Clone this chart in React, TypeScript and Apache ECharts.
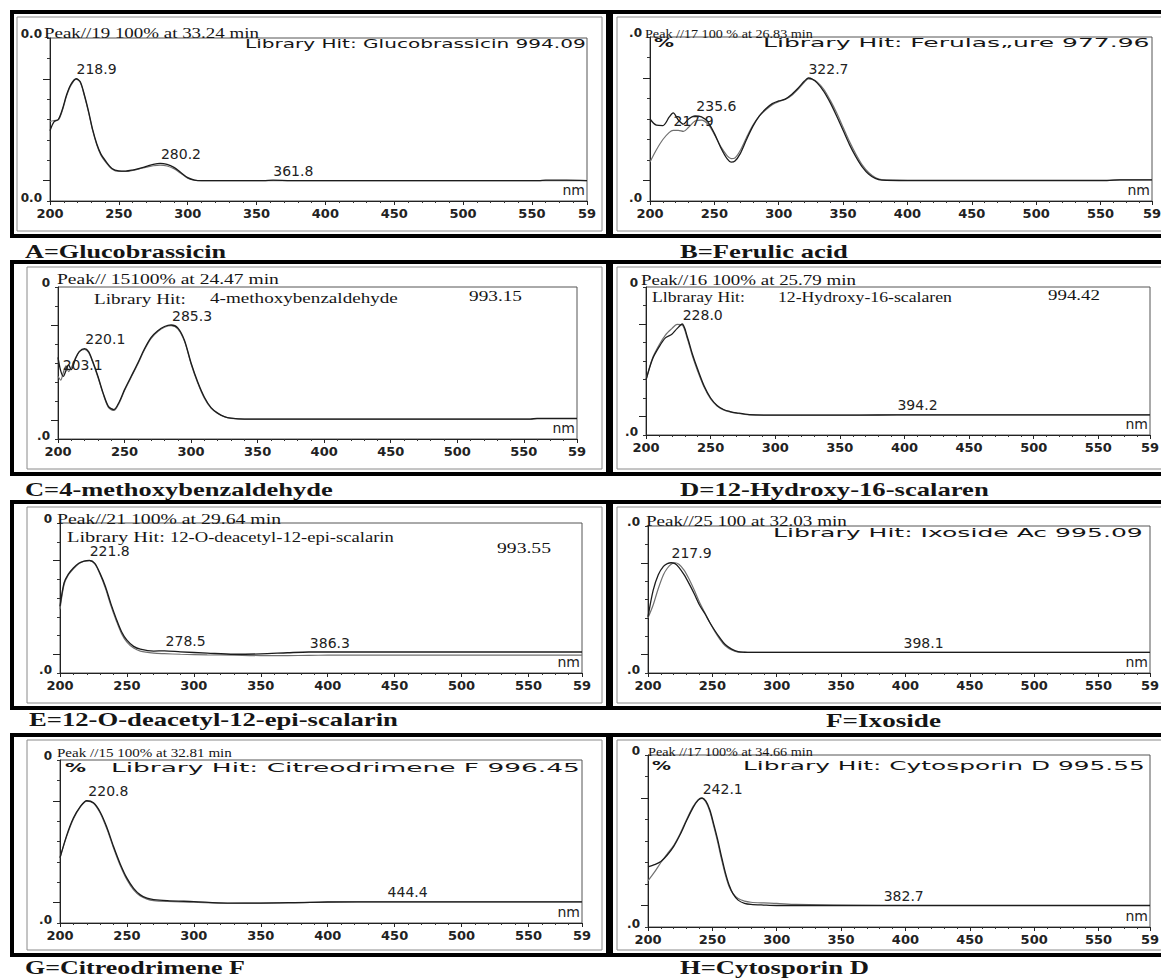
import React, { useEffect, useRef } from "react";
import * as echarts from "echarts";

// ---------------- data ----------------
const X_MIN = 200;
const X_MAX = 590;
const X_STEP = 50;
const Y_MAX = 8;

// A = Glucobrassicin
const WL_A = [200,203,206,209,212,215,219,222,225,228,231,234,237,240,245,250,255,260,265,270,275,280,285,290,295,300,305,310,355,362,375,400,450,500,555,560,575,590];
const A_SAMPLE = [3.45,3.9,4.0,4.5,5.2,5.7,6.0,5.85,5.2,4.4,3.5,2.8,2.3,2.0,1.6,1.48,1.47,1.52,1.6,1.7,1.8,1.85,1.8,1.65,1.4,1.15,1.03,1.0,1.0,1.02,1.0,1.0,1.0,1.0,1.0,1.02,1.02,1.0];
const A_LIBRARY = [3.9,3.95,3.98,4.45,5.15,5.65,5.98,5.82,5.15,4.35,3.45,2.75,2.25,1.95,1.57,1.45,1.45,1.5,1.58,1.66,1.73,1.76,1.72,1.58,1.36,1.12,1.02,1.0,1.0,1.0,1.0,1.0,1.0,1.0,1.0,1.0,1.0,1.0];
const PEAKS_A = [[218.9, 6.0, "218.9"], [280.2, 1.85, "280.2"], [361.8, 1.02, "361.8"]];

// B = Ferulic acid
const WL_B = [200,205,210,215,218,222,226,230,235,240,245,250,255,260,263,266,270,275,280,285,290,295,300,305,310,315,320,323,326,330,335,340,345,350,355,360,365,370,375,380,400,450,500,555,565,590];
const B_SAMPLE = [4.0,3.7,3.68,4.1,4.3,3.95,3.75,4.0,4.15,4.1,3.85,3.3,2.6,2.05,1.9,1.95,2.3,3.0,3.65,4.15,4.5,4.75,4.88,4.97,5.2,5.5,5.85,6.0,5.95,5.75,5.35,4.8,4.15,3.45,2.75,2.15,1.65,1.3,1.1,1.02,1.0,1.0,1.0,1.0,1.03,1.03];
const B_LIBRARY = [1.9,2.5,3.0,3.35,3.45,3.45,3.4,3.6,3.9,3.95,3.75,3.25,2.65,2.2,2.07,2.1,2.45,3.1,3.7,4.15,4.45,4.7,4.85,4.95,5.15,5.45,5.8,5.96,5.93,5.8,5.45,4.92,4.3,3.6,2.9,2.28,1.75,1.38,1.15,1.04,1.0,1.0,1.0,1.0,1.03,1.03];
const PEAKS_B = [[322.7, 6.0, "322.7"], [235.6, 4.15, "235.6"], [217.9, 3.45, "217.9"]];

// C = 4-methoxybenzaldehyde
const WL_C = [200,202,204,206,208,210,213,216,220,223,226,230,234,238,242,246,250,255,260,265,270,275,280,285,290,295,300,305,310,315,320,325,330,340,400,500,555,560,590];
const C_SAMPLE = [4.3,3.6,3.3,3.6,3.9,3.65,4.2,4.6,4.76,4.6,4.1,3.3,2.4,1.7,1.55,1.95,2.6,3.3,4.0,4.75,5.35,5.7,5.92,6.0,5.85,5.2,4.0,3.0,2.2,1.65,1.36,1.18,1.1,1.05,1.05,1.05,1.05,1.08,1.08];
const C_LIBRARY = [3.3,3.1,3.5,3.85,3.55,3.75,4.25,4.6,4.72,4.55,4.05,3.25,2.35,1.65,1.5,1.9,2.55,3.25,3.95,4.7,5.3,5.66,5.88,5.96,5.8,5.15,3.95,2.95,2.15,1.62,1.34,1.17,1.09,1.05,1.05,1.05,1.05,1.08,1.08];
const PEAKS_C = [[285.3, 6.0, "285.3"], [220.1, 4.76, "220.1"], [203.1, 3.4, "203.1"]];

// D = 12-Hydroxy-16-scalaren
const WL_D = [200,205,210,215,220,224,228,232,236,240,245,250,255,260,265,270,280,300,365,394,400,500,590];
const D_SAMPLE = [2.97,4.1,4.75,5.25,5.45,5.75,6.0,5.3,4.35,3.55,2.65,2.0,1.6,1.38,1.27,1.2,1.1,1.07,1.07,1.09,1.09,1.09,1.09];
const D_LIBRARY = [2.97,4.15,4.85,5.4,5.75,5.98,5.95,5.2,4.25,3.45,2.58,1.95,1.57,1.36,1.25,1.18,1.09,1.07,1.07,1.09,1.09,1.09,1.09];
const PEAKS_D = [[228.0, 6.0, "228.0"], [394.2, 1.09, "394.2"]];

// E = 12-O-deacetyl-12-epi-scalarin
const WL_E = [200,203,206,210,214,218,222,226,230,234,238,242,246,250,255,260,270,278,290,310,330,350,370,386,400,500,590];
const E_SAMPLE = [3.55,4.8,5.25,5.6,5.85,5.97,6.0,5.85,5.3,4.6,3.7,2.9,2.2,1.75,1.42,1.27,1.17,1.18,1.13,1.06,1.0,1.02,1.08,1.12,1.12,1.12,1.12];
const E_LIBRARY = [3.4,4.7,5.2,5.55,5.82,5.96,6.0,5.82,5.25,4.5,3.6,2.8,2.1,1.65,1.33,1.17,1.06,1.03,1.0,0.97,0.95,0.93,0.93,0.94,0.95,0.95,0.95];
const PEAKS_E = [[221.8, 6.0, "221.8"], [278.5, 1.18, "278.5"], [386.3, 1.12, "386.3"]];

// F = Ixoside
const WL_F = [200,204,208,212,215,218,221,224,228,232,236,240,244,248,252,256,260,265,270,275,280,300,400,500,590];
const F_SAMPLE = [3.05,4.5,5.35,5.8,5.95,6.0,5.95,5.75,5.35,4.85,4.3,3.7,3.25,2.75,2.3,1.9,1.55,1.3,1.16,1.13,1.12,1.12,1.12,1.12,1.12];
const F_LIBRARY = [3.0,3.7,4.6,5.35,5.7,5.92,6.0,5.92,5.6,5.1,4.5,3.85,3.3,2.75,2.25,1.82,1.48,1.25,1.14,1.12,1.12,1.12,1.12,1.12,1.12];
const PEAKS_F = [[217.9, 6.0, "217.9"], [398.1, 1.12, "398.1"]];

// G = Citreodrimene F
const WL_G = [200,205,210,215,220,225,230,235,240,245,250,255,260,265,270,280,300,325,350,375,400,444,500,590];
const G_SAMPLE = [3.2,4.3,5.15,5.7,6.0,5.9,5.45,4.7,3.75,2.9,2.2,1.7,1.38,1.22,1.15,1.1,1.05,0.98,0.98,1.0,1.03,1.04,1.04,1.04];
const G_LIBRARY = [3.2,4.25,5.1,5.68,5.98,5.88,5.4,4.62,3.68,2.82,2.12,1.62,1.32,1.17,1.1,1.06,1.02,0.97,0.98,0.99,1.03,1.04,1.04,1.04];
const PEAKS_G = [[220.8, 6.0, "220.8"], [444.4, 1.04, "444.4"]];

// H = Cytosporin D
const WL_H = [200,205,210,215,220,225,230,235,239,242,245,248,251,254,257,260,263,266,270,275,280,290,300,315,383,400,500,590];
const H_SAMPLE = [2.8,2.9,3.05,3.35,3.75,4.3,4.95,5.55,5.9,6.0,5.85,5.45,4.8,4.1,3.3,2.55,1.95,1.55,1.25,1.1,1.05,1.02,1.0,1.0,1.0,1.0,1.0,1.0];
const H_LIBRARY = [2.15,2.55,3.0,3.4,3.8,4.35,5.0,5.6,5.92,5.98,5.8,5.38,4.7,3.98,3.18,2.45,1.88,1.55,1.32,1.2,1.15,1.12,1.1,1.05,1.0,1.0,1.0,1.0];
const PEAKS_H = [[242.1, 6.0, "242.1"], [382.7, 1.0, "382.7"]];

// panel texts
const CAPTIONS = ["A=Glucobrassicin","B=Ferulic acid","C=4-methoxybenzaldehyde","D=12-Hydroxy-16-scalaren","E=12-O-deacetyl-12-epi-scalarin","F=Ixoside","G=Citreodrimene F","H=Cytosporin D"];
const PEAK_HEADERS = ["Peak//19 100% at 33.24 min","Peak //17 100 % at 26.83 min","Peak// 15100% at 24.47 min","Peak//16 100% at 25.79 min","Peak//21 100% at 29.64 min","Peak//25 100 at 32.03 min","Peak //15 100% at 32.81 min","Peak //17 100% at 34.66 min"];
const Y_TOP_LABELS = ["0.0", ".0", "0", "0", "0", ".0", "0", "0"];
const Y_BOTTOM_LABELS = ["0.0", ".0", ".0", ".0", ".0", ".0", ".0", ".0"];

const SERIES_DATA = [
  { wl: WL_A, s: A_SAMPLE, l: A_LIBRARY, p: PEAKS_A },
  { wl: WL_B, s: B_SAMPLE, l: B_LIBRARY, p: PEAKS_B },
  { wl: WL_C, s: C_SAMPLE, l: C_LIBRARY, p: PEAKS_C },
  { wl: WL_D, s: D_SAMPLE, l: D_LIBRARY, p: PEAKS_D },
  { wl: WL_E, s: E_SAMPLE, l: E_LIBRARY, p: PEAKS_E },
  { wl: WL_F, s: F_SAMPLE, l: F_LIBRARY, p: PEAKS_F },
  { wl: WL_G, s: G_SAMPLE, l: G_LIBRARY, p: PEAKS_G },
  { wl: WL_H, s: H_SAMPLE, l: H_LIBRARY, p: PEAKS_H },
];

// ---------------- layout ----------------
const GRIDS = [
  { left: 50, top: 38, width: 537, height: 163 },
  { left: 650, top: 37, width: 502, height: 164 },
  { left: 58, top: 287, width: 519, height: 152 },
  { left: 646, top: 287, width: 504, height: 148 },
  { left: 60, top: 523, width: 522, height: 150 },
  { left: 648, top: 526, width: 502, height: 147 },
  { left: 60, top: 760, width: 522, height: 163 },
  { left: 648, top: 755, width: 502, height: 172 },
];
const ROWS = [
  { top: 12, bottom: 236 },
  { top: 262, bottom: 474 },
  { top: 502, bottom: 708 },
  { top: 735, bottom: 955 },
];
const INNER_LEFT = [17, 27, 27, 27];
const CAPTION_POS = [
  [25, 252, 201], [680, 252, 168], [25, 490, 308], [680, 490, 309],
  [29, 720, 369], [826, 721, 115], [25, 968, 220], [680, 968, 189],
];
// x, width, font size, vertical shift
const PEAK_HEADER_POS = [
  [44, 215, 15, 0], [645, 168, 12, 0], [57, 222, 15, -4], [641, 215, 15, -2],
  [57, 224, 15, 0], [646, 201, 15, 0], [57, 175, 12, -4], [648, 165, 12, 0],
];

const SANS = "'DejaVu Sans'";
const SERIF = "'Liberation Serif'";
const INK = "#151515";

export default function App() {
  const ref = useRef<HTMLDivElement>(null);

  useEffect(() => {
    const el = ref.current!;
    const chart = echarts.init(el, null, { renderer: "svg", width: 1161, height: 980 });
    const ctx = document.createElement("canvas").getContext("2d")!;
    const fit = (text: string, font: string, w: number) => {
      ctx.font = font;
      const m = ctx.measureText(text).width;
      return m > 0 ? w / m : 1;
    };
    const txt = (text: string, x: number, y: number, font: string, w: number, valign = "middle") => ({
      type: "text",
      x,
      y,
      scaleX: fit(text, font, w),
      z: 100,
      silent: true,
      style: { text, font, fill: INK, textAlign: "left", textVerticalAlign: valign, align: "left", verticalAlign: valign },
    });

    const graphics: any[] = [];
    ROWS.forEach((r, ri) => {
      graphics.push({ type: "rect", z: 50, silent: true, shape: { x: 12, y: r.top, width: 1170, height: r.bottom - r.top }, style: { fill: "none", stroke: "#000", lineWidth: 4 } });
      graphics.push({ type: "rect", z: 50, silent: true, shape: { x: 606, y: r.top, width: 7, height: r.bottom - r.top }, style: { fill: "#000" } });
      const il = INNER_LEFT[ri];
      graphics.push({ type: "rect", z: 49, silent: true, shape: { x: il, y: r.top + 5, width: 602 - il, height: r.bottom - r.top - 10 }, style: { fill: "none", stroke: "#8a8a8a", lineWidth: 1 } });
      graphics.push({ type: "rect", z: 49, silent: true, shape: { x: 617, y: r.top + 5, width: 600, height: r.bottom - r.top - 10 }, style: { fill: "none", stroke: "#8a8a8a", lineWidth: 1 } });
    });
    CAPTIONS.forEach((c, i) => {
      const [x, y, w] = CAPTION_POS[i];
      graphics.push(txt(c, x, y, `bold 18px ${SERIF}`, w));
    });
    PEAK_HEADERS.forEach((c, i) => {
      const [x, w, fs, dy] = PEAK_HEADER_POS[i];
      graphics.push(txt(c, x, GRIDS[i].top + 3 + dy, `${fs}px ${SERIF}`, w, "bottom"));
    });
    const sansF = `12px ${SANS}`;
    const serifF = `15px ${SERIF}`;
    graphics.push(txt("Library Hit: Glucobrassicin 994.09", 245, 44, sansF, 341));
    graphics.push(txt("%", 654, 43, `bold 12px ${SANS}`, 20));
    graphics.push(txt("Library Hit: Ferulas\u201eure 977.96", 763, 43, sansF, 387));
    graphics.push(txt("Library Hit:", 94, 299, serifF, 92));
    graphics.push(txt("4-methoxybenzaldehyde", 210, 298, serifF, 188));
    graphics.push(txt("993.15", 469, 296, serifF, 53));
    graphics.push(txt("Llbraray Hit:", 652, 297, serifF, 93));
    graphics.push(txt("12-Hydroxy-16-scalaren", 778, 297, serifF, 174));
    graphics.push(txt("994.42", 1048, 295, serifF, 52));
    graphics.push(txt("Library Hit:", 67, 537, serifF, 98));
    graphics.push(txt("12-O-deacetyl-12-epi-scalarin", 170, 537, serifF, 224));
    graphics.push(txt("993.55", 497, 548, serifF, 54));
    graphics.push(txt("Library Hit: Ixoside Ac 995.09", 773, 533, sansF, 370));
    graphics.push(txt("%", 65, 768, `bold 12px ${SANS}`, 21));
    graphics.push(txt("Library Hit: Citreodrimene F 996.45", 111, 768, sansF, 469));
    graphics.push(txt("%", 652, 766, `bold 12px ${SANS}`, 19));
    graphics.push(txt("Library Hit: Cytosporin D 995.55", 743, 766, sansF, 402));

    const grid = GRIDS.map((g) => ({ ...g, show: true, borderColor: "#555", borderWidth: 1, backgroundColor: "transparent", containLabel: false, outerBoundsMode: "none" }));

    const xAxis = GRIDS.map((_, i) => ({
      type: "value",
      gridIndex: i,
      min: X_MIN,
      max: X_MAX,
      interval: X_STEP,
      axisLine: { show: true, onZero: false, lineStyle: { color: "#222", width: 1 } },
      axisTick: { show: true, length: 4, lineStyle: { color: "#222" } },
      minorTick: { show: true, splitNumber: 5, length: 2, lineStyle: { color: "#333" } },
      splitLine: { show: false },
      minorSplitLine: { show: false },
      axisLabel: {
        formatter: (v: number) => (v === 590 ? "59" : String(v)),
        fontFamily: SANS, fontSize: 13, fontWeight: "bold", color: "#222", margin: 6,
        showMinLabel: true, showMaxLabel: true, hideOverlap: false,
      },
      name: "nm",
      nameLocation: "end",
      nameGap: -2,
      nameTextStyle: { align: "right", verticalAlign: "bottom", fontFamily: SANS, fontSize: 14, color: "#222", padding: [0, 0, 4, 0] },
    }));

    const labelRich = { fontFamily: SANS, fontSize: 12, fontWeight: "bold", color: "#222" };
    const yAxisMain = GRIDS.map((_, i) => ({
      type: "value",
      gridIndex: i,
      min: 0,
      max: Y_MAX,
      interval: 1,
      axisLine: { show: true, lineStyle: { color: "#222" } },
      axisTick: { show: true, length: 3, lineStyle: { color: "#333" } },
      splitLine: { show: false },
      axisLabel: {
        margin: 8,
        showMinLabel: true,
        showMaxLabel: true,
        formatter: (v: number) => (v === Y_MAX ? `{t|${Y_TOP_LABELS[i]}}` : v === 0 ? `{b|${Y_BOTTOM_LABELS[i]}}` : ""),
        rich: { t: { ...labelRich, padding: [0, 0, 9, 0] }, b: { ...labelRich, padding: [0, 0, 6, 0] } },
      },
    }));
    const yAxisTicks = GRIDS.map((_, i) => ({
      type: "value",
      gridIndex: i,
      min: 0,
      max: Y_MAX,
      position: "left",
      offset: 0,
      axisLine: { show: false },
      axisLabel: { show: false },
      splitLine: { show: false },
      axisTick: { show: true, length: 7, customValues: [1, 6], lineStyle: { color: "#222" } },
    }));

    const series: any[] = [];
    SERIES_DATA.forEach((d, i) => {
      series.push({
        type: "line",
        name: `sample-${i}`,
        xAxisIndex: i,
        yAxisIndex: i,
        data: d.wl.map((x, k) => [x, d.s[k]]),
        symbol: "none",
        showSymbol: false,
        smooth: 0.3,
        silent: true,
        z: 3,
        lineStyle: { color: "#1c1c1c", width: 1.3 },
        markPoint: {
          symbol: "circle",
          symbolSize: 1,
          silent: true,
          itemStyle: { color: "rgba(0,0,0,0)" },
          label: { show: true, position: [1, -2], align: "left", verticalAlign: "bottom", formatter: "{b}", fontFamily: SANS, fontSize: 14, color: "#222" },
          data: d.p.map((p) => ({ name: String(p[2]), coord: [p[0], p[1]] })),
        },
      });
      series.push({
        type: "line",
        name: `library-${i}`,
        xAxisIndex: i,
        yAxisIndex: i,
        data: d.wl.map((x, k) => [x, d.l[k]]),
        symbol: "none",
        showSymbol: false,
        smooth: 0.3,
        silent: true,
        z: 2,
        lineStyle: { color: "#707070", width: 1.2 },
      });
    });

    chart.setOption({
      animation: false,
      backgroundColor: "#fff",
      grid,
      xAxis,
      yAxis: [...yAxisMain, ...yAxisTicks],
      series,
      graphic: { elements: graphics },
    });
    return () => chart.dispose();
  }, []);

  return <div ref={ref} style={{ position: "absolute", left: 0, top: 0, width: 1161, height: 980, background: "#fff" }} />;
}
